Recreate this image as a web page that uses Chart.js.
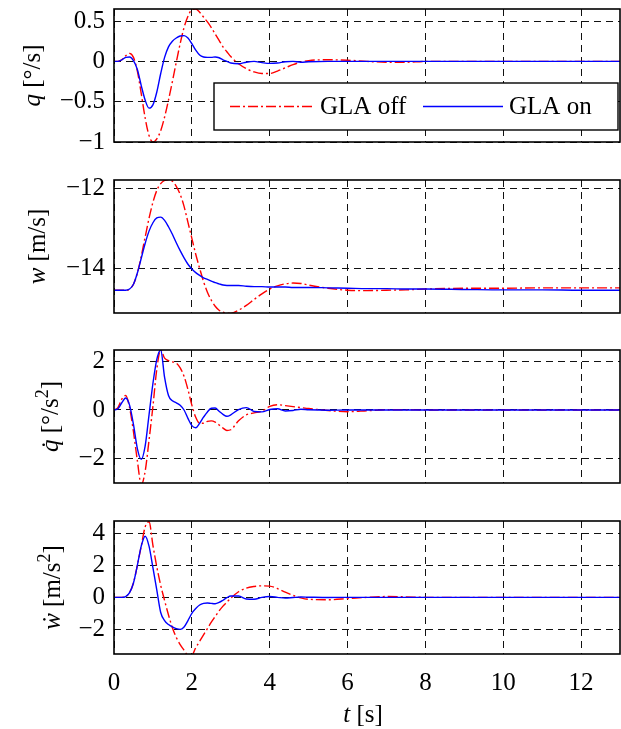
<!DOCTYPE html>
<html lang="en">
<head>
<meta charset="UTF-8">
<title>GLA off / GLA on</title>
<style>
  html, body { margin: 0; padding: 0; background: #fff; }
  #wrap { position: relative; width: 621px; height: 729px; }
  #wrap canvas { position: absolute; left: 0; }
</style>
</head>
<body>
<div id="wrap">
  <canvas id="c1"></canvas>
  <canvas id="c2"></canvas>
  <canvas id="c3"></canvas>
  <canvas id="c4"></canvas>
</div>
<script src="https://cdn.jsdelivr.net/npm/chart.js"></script>
<script>
// time [s]
const time = [0, 0.1, 0.2, 0.3, 0.4, 0.5, 0.6, 0.7, 0.8, 0.9,
  1.0, 1.1, 1.2, 1.3, 1.4, 1.5, 1.6, 1.7, 1.8, 1.9,
  2.0, 2.1, 2.2, 2.3, 2.4, 2.5, 2.6, 2.7, 2.8, 2.9, 3.0,
  3.2, 3.4, 3.6, 3.8, 4.0, 4.2, 4.4, 4.6, 4.8, 5.0,
  5.5, 6, 6.5, 7, 7.5, 8, 9, 10, 11, 12, 13]

const seriesNames = ['GLA off', 'GLA on']

// q [deg/s]
const qOff = [0, 0, 0.02, 0.07, 0.1, 0.05, -0.12, -0.4, -0.7, -0.92,
  -1.0, -0.96, -0.86, -0.69, -0.48, -0.25, -0.01, 0.22, 0.42, 0.56,
  0.64, 0.65, 0.61, 0.55, 0.49, 0.42, 0.34, 0.26, 0.18, 0.12, 0.06,
  -0.03, -0.09, -0.13, -0.15, -0.15, -0.12, -0.08, -0.04, -0.01, 0.01,
  0.02, 0.015, 0, -0.01, -0.01, 0, 0, 0, 0, 0, 0]
const qOn = [0, 0, 0.02, 0.05, 0.055, 0.01, -0.1, -0.3, -0.48, -0.58,
  -0.54, -0.38, -0.15, 0.05, 0.18, 0.25, 0.29, 0.315, 0.32, 0.29,
  0.22, 0.14, 0.08, 0.055, 0.05, 0.05, 0.055, 0.045, 0.02, 0, -0.02,
  -0.03, -0.01, 0, -0.015, -0.025, -0.02, -0.005, 0, -0.01, -0.005,
  0, 0, 0, 0, 0, 0, 0, 0, 0, 0, 0]

// w [m/s]
const wOff = [-14.55, -14.55, -14.55, -14.55, -14.52, -14.4, -14.12, -13.7, -13.22, -12.75,
  -12.35, -12.05, -11.88, -11.8, -11.78, -11.82, -11.95, -12.15, -12.45, -12.85,
  -13.25, -13.65, -14.0, -14.33, -14.6, -14.8, -14.95, -15.05, -15.1, -15.13, -15.13,
  -15.05, -14.93, -14.78, -14.64, -14.52, -14.44, -14.39, -14.37, -14.38, -14.42,
  -14.5, -14.55, -14.56, -14.55, -14.54, -14.52, -14.5, -14.5, -14.49, -14.49, -14.49]
const wOn = [-14.55, -14.55, -14.55, -14.55, -14.52, -14.4, -14.12, -13.75, -13.38, -13.07,
  -12.86, -12.74, -12.72, -12.8, -12.96, -13.15, -13.36, -13.56, -13.74, -13.9,
  -14.02, -14.11, -14.18, -14.24, -14.28, -14.32, -14.36, -14.39, -14.42, -14.43, -14.43,
  -14.43, -14.45, -14.46, -14.46, -14.47, -14.47, -14.47, -14.48, -14.48, -14.48,
  -14.49, -14.5, -14.51, -14.51, -14.52, -14.52, -14.53, -14.54, -14.54, -14.55, -14.55]

// q dot [deg/s^2]
const qdotOff = [0, 0.1, 0.45, 0.6, 0.1, -0.9, -2.1, -3.1, -2.55, -1.25,
  0.15, 1.7, 2.5, 2.15, 2.05, 2.0, 1.95, 1.75, 1.4, 0.85,
  0.2, -0.3, -0.55, -0.55, -0.47, -0.45, -0.5, -0.62, -0.75, -0.85, -0.82,
  -0.45, -0.2, -0.12, -0.05, 0.15, 0.22, 0.18, 0.14, 0.1, 0.06,
  -0.02, -0.07, -0.03, 0.01, 0.01, 0, 0, 0, 0, 0, 0]
const qdotOn = [0, 0.05, 0.3, 0.5, 0.2, -0.6, -1.6, -2.05, -1.5, -0.2,
  1.1, 2.1, 2.5, 1.35, 0.6, 0.38, 0.3, 0.2, 0, -0.35,
  -0.65, -0.74, -0.55, -0.3, -0.08, 0.07, 0.08, -0.05, -0.18, -0.26, -0.2,
  0.02, 0.1, -0.06, -0.08, 0.02, 0.05, -0.04, -0.02, 0.03, 0.01,
  -0.01, 0, 0, 0, 0, 0, 0, 0, 0, 0, 0]

// w dot [m/s^2]
const wdotOff = [0, 0, 0, 0.05, 0.3, 0.9, 2.0, 3.2, 4.4, 4.72,
  3.25, 1.9, 0.75, -0.2, -1.1, -1.9, -2.5, -2.95, -3.3, -3.6,
  -3.6, -3.15, -2.75, -2.35, -1.95, -1.55, -1.2, -0.85, -0.55, -0.3, -0.05,
  0.35, 0.58, 0.68, 0.72, 0.7, 0.55, 0.32, 0.12, -0.03, -0.12,
  -0.15, -0.08, 0, 0.05, 0.03, 0, 0, 0, 0, 0, 0]
const wdotOn = [0, 0, 0, 0.05, 0.3, 0.9, 2.0, 3.2, 3.82, 3.2,
  1.85, 0.45, -0.95, -1.45, -1.7, -1.85, -1.95, -2.0, -1.85, -1.45,
  -1.0, -0.7, -0.48, -0.38, -0.35, -0.38, -0.4, -0.32, -0.18, -0.02, 0.08,
  0.08, -0.1, -0.12, 0, 0.05, 0, -0.05, -0.01, 0.02, 0.01,
  -0.01, 0, 0, 0, 0, 0, 0, 0, 0, 0, 0]

const xTicks = [0, 2, 4, 6, 8, 10, 12]
const qTicks = [-1, -0.5, 0, 0.5]
const wTicks = [-14, -12]
const qdotTicks = [-2, 0, 2]
const wdotTicks = [-2, 0, 2, 4]

const FONT = 'Liberation Serif'
const offStyle = { color: '#ff0000', dash: [10, 3, 2, 3] }
const onStyle = { color: '#0000ff', dash: [] }
const gridDash = [7, 5]

const panels = [
  { id: 'c1', off: qOff, on: qOn, ticks: qTicks, min: -1.0, max: 0.65, top: 9,
    title: [{ t: 'q', it: true }, { t: ' [°/s]' }], titleX: 40, legend: true },
  { id: 'c2', off: wOff, on: wOn, ticks: wTicks, min: -15.12, max: -11.79, top: 180,
    title: [{ t: 'w', it: true }, { t: ' [m/s]' }], titleX: 45 },
  { id: 'c3', off: qdotOff, on: qdotOn, ticks: qdotTicks, min: -3.03, max: 2.49, top: 350,
    title: [{ t: 'q\u0307', it: true }, { t: ' [°/s' }, { t: '2', sup: true }, { t: ']' }], titleX: 58 },
  { id: 'c4', off: wdotOff, on: wdotOn, ticks: wdotTicks, min: -3.54, max: 4.77, top: 521,
    title: [{ t: '\u1e87', it: true }, { t: ' [m/s' }, { t: '2', sup: true }, { t: ']' }], titleX: 60, last: true }
]

function drawRich(ctx, parts, size) {
  let w = 0
  const items = parts.map(p => {
    const fs = p.sup ? Math.round(size * 0.7) : size
    const font = (p.it ? 'italic ' : '') + fs + 'px "' + FONT + '"'
    ctx.font = font
    const m = ctx.measureText(p.t).width
    w += m
    return { t: p.t, font, m, dy: p.sup ? -size * 0.42 : 0 }
  })
  let x = -w / 2
  ctx.textAlign = 'left'
  ctx.textBaseline = 'alphabetic'
  items.forEach(it => {
    ctx.font = it.font
    ctx.fillText(it.t, x, it.dy)
    x += it.m
  })
}

const framePlugin = {
  id: 'frame',
  afterDraw(chart, args, opts) {
    const { ctx, chartArea: a } = chart
    ctx.save()
    ctx.strokeStyle = '#000'
    ctx.lineWidth = 1.6
    ctx.strokeRect(a.left, a.top, a.right - a.left, a.bottom - a.top)

    // y title
    ctx.fillStyle = '#000'
    ctx.save()
    ctx.translate(opts.titleX, (a.top + a.bottom) / 2)
    ctx.rotate(-Math.PI / 2)
    drawRich(ctx, opts.title, 25)
    ctx.restore()

    // x title
    if (opts.last) {
      ctx.save()
      ctx.translate((a.left + a.right) / 2 - 4, a.bottom + 68)
      drawRich(ctx, [{ t: 't', it: true }, { t: ' [s]' }], 25)
      ctx.restore()
    }

    // legend box
    if (opts.legend) {
      const bx = a.left + 100, by = a.top + 74, bw = 404, bh = 47
      ctx.fillStyle = '#fff'
      ctx.fillRect(bx, by, bw, bh)
      ctx.lineWidth = 1.4
      ctx.strokeRect(bx, by, bw, bh)
      const cy = by + bh / 2
      const sampleX = [bx + 16, bx + 209]
      const sampleW = [84, 80]
      chart.data.datasets.forEach((ds, i) => {
        ctx.strokeStyle = ds.borderColor
        ctx.lineWidth = ds.borderWidth
        ctx.setLineDash(ds.borderDash)
        ctx.beginPath()
        ctx.moveTo(sampleX[i], cy)
        ctx.lineTo(sampleX[i] + sampleW[i], cy)
        ctx.stroke()
        ctx.setLineDash([])
        ctx.fillStyle = '#000'
        ctx.font = '25px "' + FONT + '"'
        ctx.textAlign = 'left'
        ctx.textBaseline = 'middle'
        ctx.fillText(ds.label, sampleX[i] + sampleW[i] + 6, cy + 1)
      })
    }
    ctx.restore()
  }
}

function minus(v) {
  return String(v).replace('-', '\u2212')
}

panels.forEach(p => {
  const canvas = document.getElementById(p.id)
  const canvasTop = p.top - 9
  const height = p.last ? 729 - canvasTop : 133 + 18
  canvas.width = 621
  canvas.height = height
  canvas.style.top = canvasTop + 'px'

  new Chart(canvas, {
    type: 'line',
    data: {
      datasets: [
        { label: seriesNames[0], data: time.map((t, i) => ({ x: t, y: p.off[i] })),
          borderColor: offStyle.color, borderDash: offStyle.dash, borderWidth: 1.4,
          pointRadius: 0, fill: false, cubicInterpolationMode: 'monotone', order: 1 },
        { label: seriesNames[1], data: time.map((t, i) => ({ x: t, y: p.on[i] })),
          borderColor: onStyle.color, borderDash: onStyle.dash, borderWidth: 1.4,
          pointRadius: 0, fill: false, cubicInterpolationMode: 'monotone', order: 0 }
      ]
    },
    options: {
      responsive: false,
      animation: false,
      devicePixelRatio: 1,
      layout: { padding: { top: 9, bottom: p.last ? 0 : 9, left: 0, right: 1 } },
      plugins: {
        legend: { display: false },
        tooltip: { enabled: false },
        frame: { title: p.title, titleX: p.titleX, last: !!p.last, legend: !!p.legend }
      },
      scales: {
        x: {
          type: 'linear', min: 0, max: 13,
          afterBuildTicks: s => { s.ticks = xTicks.map(v => ({ value: v })) },
          afterFit: s => {
            s.height = p.last ? 75 : 0
            s.paddingLeft = 0
            s.paddingRight = 0
          },
          grid: { color: '#111', lineWidth: 1, drawTicks: false },
          border: { display: false, dash: gridDash },
          ticks: { display: !!p.last, padding: 14, color: '#000', maxRotation: 0, autoSkip: false,
            font: { family: FONT, size: 25 }, callback: v => minus(v) }
        },
        y: {
          type: 'linear', min: p.min, max: p.max,
          afterBuildTicks: s => { s.ticks = p.ticks.map(v => ({ value: v })) },
          afterFit: s => {
            s.width = 114
            s.paddingTop = 0
            s.paddingBottom = 0
          },
          grid: { color: '#111', lineWidth: 1, drawTicks: false },
          border: { display: false, dash: gridDash },
          ticks: { padding: 9, color: '#000', font: { family: FONT, size: 25 },
            callback: v => minus(v) }
        }
      }
    },
    plugins: [framePlugin]
  })
})
</script>
</body>
</html>
